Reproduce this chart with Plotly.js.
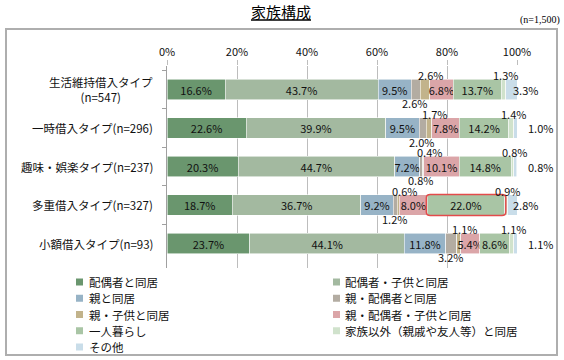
<!DOCTYPE html>
<html><head><meta charset="utf-8">
<script src="https://cdn.plot.ly/plotly-3.0.1.min.js"></script>
<style>html,body{margin:0;padding:0;background:#fff}#chart{width:564px;height:360px}</style>
</head><body><div id="chart"></div>
<script>
// ---- data ----
const rowKeys = ['生活維持借入タイプ','一時借入タイプ','趣味・娯楽タイプ','多重借入タイプ','小額借入タイプ'];
const rowLabels = ['生活維持借入タイプ<br>(n=547)','一時借入タイプ(n=296)','趣味・娯楽タイプ(n=237)','多重借入タイプ(n=327)','小額借入タイプ(n=93)'];
const seriesNames = ['配偶者と同居','配偶者・子供と同居','親と同居','親・配偶者と同居','親・子供と同居','親・配偶者・子供と同居','一人暮らし','家族以外（親戚や友人等）と同居','その他'];
const vSpouse        = [16.6, 22.6, 20.3, 18.7, 23.7];
const vSpouseChild   = [43.7, 39.9, 44.7, 36.7, 44.1];
const vParent        = [9.5, 9.5, 7.2, 9.2, 11.8];
const vParentSpouse  = [2.6, 2.0, 0.8, 1.2, 3.2];
const vParentChild   = [2.6, 1.7, 0.4, 0.6, 1.1];
const vParentSpChild = [6.8, 7.8, 10.1, 8.0, 5.4];
const vAlone         = [13.7, 14.2, 14.8, 22.0, 8.6];
const vNonFamily     = [1.3, 1.4, 0.8, 0.9, 1.1];
const vOther         = [3.3, 1.0, 0.8, 2.8, 1.1];
const totalLabel = '(n=1,500)';
const chartTitle = '家族構成';
const xTicks = [0, 20, 40, 60, 80, 100];

// ---- style ----
const seriesValues = [vSpouse, vSpouseChild, vParent, vParentSpouse, vParentChild, vParentSpChild, vAlone, vNonFamily, vOther];
const colors = ['#6a966e','#a3b9a0','#97b3c6','#b3aca2','#c2b38b','#dba5a8','#a9c5a5','#d0e2cc','#c9dde9'];
const placement = ['in','in','in','below','above','in','in','above','right'];
const highlight = {row: '多重借入タイプ', series: 6};
const FONT = '"Noto Sans CJK JP", "Noto Sans", sans-serif';
const M = {l:167, r:47, t:66, b:92}, W = 564, H = 360;
const PW = W - M.l - M.r, PH = H - M.t - M.b;
const px2x = px => (px - M.l) / PW;
const py2y = py => (H - M.b - py) / PH;
const fmt = v => v.toFixed(1) + '%';

const traces = seriesValues.map((vals, i) => ({
  type: 'bar', orientation: 'h', name: seriesNames[i],
  x: vals, y: rowKeys,
  marker: {color: colors[i], line: {color: 'rgba(255,255,255,0.7)', width: 0.8}},
  text: vals.map(v => placement[i] === 'in' ? fmt(v) : ''),
  textposition: 'inside', insidetextanchor: 'middle', textangle: 0, constraintext: 'none',
  textfont: {family: FONT, size: 11, color: '#111'},
  insidetextfont: {family: FONT, size: 11, color: '#111'},
  hoverinfo: 'skip', showlegend: false
}));

const annotations = [];
const shapes = [];
// cumulative starts
const starts = seriesValues.map((vals, i) => vals.map((v, r) => {
  let s = 0; for (let k = 0; k < i; k++) s += seriesValues[k][r]; return s;
}));
seriesValues.forEach((vals, i) => {
  if (placement[i] === 'in') return;
  vals.forEach((v, r) => {
    const a = {xref: 'x', yref: 'y', y: rowKeys[r], text: fmt(v), showarrow: false,
      font: {family: FONT, size: 11, color: '#111'}, yanchor: 'middle'};
    if (placement[i] === 'above') { a.x = starts[i][r] + v / 2; a.yshift = 14.5; a.xshift = i === 7 ? 2 : 6; }
    else if (placement[i] === 'below') { a.x = starts[i][r] + v / 2; a.yshift = -13.5; a.xshift = -1; }
    else { a.x = 100; a.xanchor = 'left'; a.xshift = v >= 2 ? -6 : 9; }
    annotations.push(a);
  });
});
// row labels
rowKeys.forEach((k, r) => annotations.push({
  xref: 'paper', x: 0, xanchor: 'right', xshift: -12, yref: 'y', y: k, yanchor: 'middle',
  text: rowLabels[r], align: 'center', showarrow: false,
  font: {family: FONT, size: 11.5, color: '#111'}
}));
// n total
annotations.push({xref: 'paper', yref: 'paper', x: px2x(562), y: py2y(20), xanchor: 'right', yanchor: 'middle',
  text: totalLabel, showarrow: false, font: {family: '"Liberation Serif", serif', size: 10, color: '#000'}});
// manual legend (two columns)
seriesNames.forEach((n, i) => {
  const col = i % 2, row = Math.floor(i / 2);
  const mx = col ? 333 : 76, tx = col ? 343 : 87, yc = 282 + 16.25 * row;
  shapes.push({type: 'rect', xref: 'paper', yref: 'paper', x0: px2x(mx), x1: px2x(mx + 7),
    y0: py2y(yc + 3.5), y1: py2y(yc - 3.5), fillcolor: colors[i], line: {width: 0}});
  annotations.push({xref: 'paper', yref: 'paper', x: px2x(tx), y: py2y(yc), xanchor: 'left', yanchor: 'middle',
    text: n, showarrow: false, font: {family: FONT, size: 11.5, color: '#111'}});
});
// highlight box
{
  const r = rowKeys.indexOf(highlight.row), s = highlight.series;
  const x0 = starts[s][r] - 0.3, x1 = starts[s][r] + seriesValues[s][r] + 0.4;
  const y0 = r - 0.27, y1 = r + 0.27, rx = 1.1, ry = 0.09;
  const path = `M${x0+rx},${y0} L${x1-rx},${y0} Q${x1},${y0} ${x1},${y0+ry} L${x1},${y1-ry} Q${x1},${y1} ${x1-rx},${y1} L${x0+rx},${y1} Q${x0},${y1} ${x0},${y1-ry} L${x0},${y0+ry} Q${x0},${y0} ${x0+rx},${y0} Z`;
  shapes.push({type: 'path', xref: 'x', yref: 'y', path, line: {color: '#e34b4b', width: 1.5}});
}
// outer frame
shapes.push({type: 'rect', xref: 'paper', yref: 'paper', x0: px2x(6), x1: px2x(557), y0: py2y(355), y1: py2y(29),
  line: {color: '#aeaeae', width: 2}, fillcolor: 'rgba(0,0,0,0)'});

const layout = {
  width: W, height: H, margin: M, paper_bgcolor: '#fff', plot_bgcolor: '#fff',
  barmode: 'stack', bargap: 0.48, showlegend: false,
  font: {family: FONT, size: 11, color: '#111'},
  title: {text: chartTitle, xref: 'container', yref: 'container', x: 281 / W, xanchor: 'center',
    y: 1 - 13 / H, yanchor: 'middle', font: {family: FONT, size: 15, color: '#000', lineposition: 'under'}},
  xaxis: {side: 'top', range: [0, 100], tickvals: xTicks, ticktext: xTicks.map(t => t + '%'),
    showgrid: true, gridcolor: '#bdbdbd', gridwidth: 1, ticks: 'outside', ticklen: 5, tickcolor: '#bdbdbd',
    zeroline: false, showline: false, tickfont: {family: FONT, size: 11, color: '#111'}, fixedrange: true},
  yaxis: {type: 'category', categoryorder: 'array', categoryarray: rowKeys, autorange: 'reversed',
    showticklabels: false, ticks: 'outside', tickson: 'boundaries', ticklen: 4, tickcolor: '#a0a0a0',
    showline: true, linecolor: '#a0a0a0', linewidth: 1, showgrid: false, zeroline: false, fixedrange: true},
  annotations, shapes
};
Plotly.newPlot('chart', traces, layout, {displayModeBar: false, staticPlot: true});
</script></body></html>
